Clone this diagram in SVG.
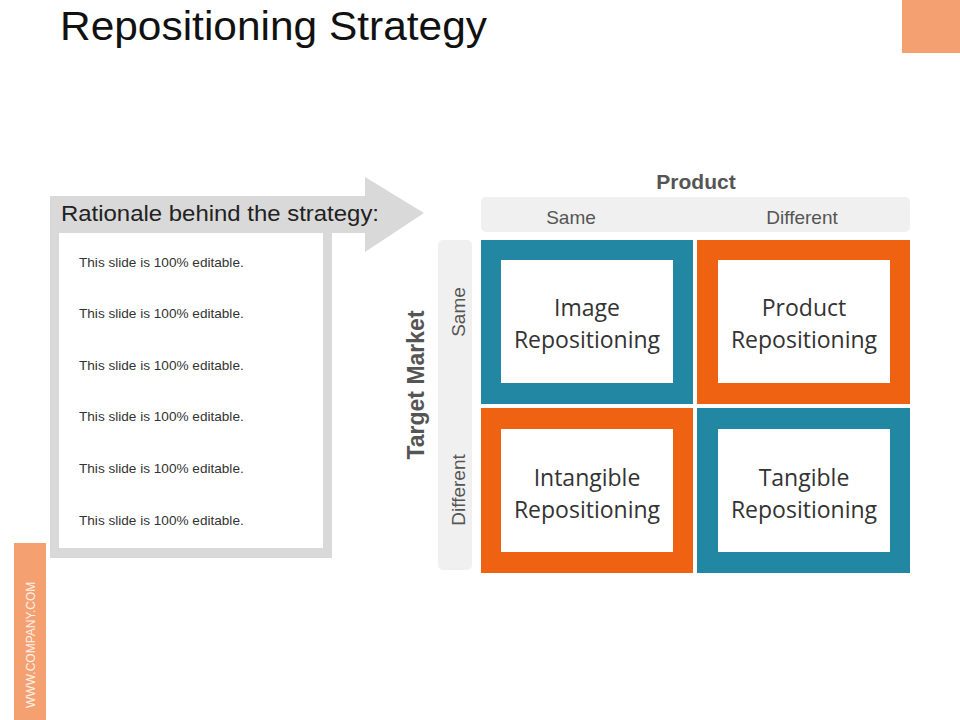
<svg xmlns="http://www.w3.org/2000/svg" width="960" height="720" viewBox="0 0 960 720">
<style>
.t{font-family:"Liberation Sans",Arial,sans-serif}
.q{font-family:"Open Sans","Noto Sans",sans-serif;font-size:23px;fill:#333;text-anchor:middle}
.s{font-size:13.6px;fill:#333}
.teal{fill:#2187A3}.or{fill:#EE6212}.in{fill:#fff}
</style>
<rect width="960" height="720" fill="#fff"/>
<text class="t" x="60" y="40" font-size="40" fill="#111" textLength="427" lengthAdjust="spacingAndGlyphs">Repositioning Strategy</text>
<rect x="902" y="0" width="58" height="53" fill="#F5A071"/>
<rect x="14" y="543" width="32" height="177" fill="#F5A071"/>
<text class="t" transform="translate(35,708) rotate(-90)" font-size="12" fill="#fff" opacity="0.85">WWW.COMPANY.COM</text>
<g id="rationale">
<path d="M50,196 H365 V177 L424,213 L365,252 V233 H332 V558 H50 Z" fill="#D9D9D9"/>
<rect x="59" y="233" width="264" height="315" fill="#fff"/>
<text class="t" x="61" y="221" font-size="22" fill="#222" textLength="318" lengthAdjust="spacingAndGlyphs">Rationale behind the strategy:</text>
<text class="t s" x="79" y="267">This slide is 100% editable.</text>
<text class="t s" x="79" y="318">This slide is 100% editable.</text>
<text class="t s" x="79" y="370">This slide is 100% editable.</text>
<text class="t s" x="79" y="421">This slide is 100% editable.</text>
<text class="t s" x="79" y="473">This slide is 100% editable.</text>
<text class="t s" x="79" y="525">This slide is 100% editable.</text>
</g>
<g id="axes">
<text class="t" x="696" y="189" font-size="21" font-weight="bold" fill="#555" text-anchor="middle">Product</text>
<rect x="481" y="197" width="429" height="35" rx="5" fill="#F0F0F0"/>
<text class="t" x="571" y="224" font-size="19" fill="#555" text-anchor="middle">Same</text>
<text class="t" x="802" y="224" font-size="19" fill="#555" text-anchor="middle">Different</text>
<text class="t" transform="translate(424,385) rotate(-90)" font-size="23" font-weight="bold" fill="#555" text-anchor="middle">Target Market</text>
<rect x="438" y="240" width="34" height="330" rx="5" fill="#F0F0F0"/>
<text class="t" transform="translate(465,312) rotate(-90)" font-size="19" fill="#555" text-anchor="middle">Same</text>
<text class="t" transform="translate(465,490) rotate(-90)" font-size="19" fill="#555" text-anchor="middle">Different</text>
</g>
<g id="image">
<rect class="teal" x="481" y="240" width="212" height="164"/><rect class="in" x="501" y="260" width="172" height="123"/>
<text class="q" x="587" y="316">Image</text><text class="q" x="587" y="348">Repositioning</text></g>
<g id="product">
<rect class="or" x="697" y="240" width="213" height="164"/><rect class="in" x="718" y="260" width="172" height="123"/>
<text class="q" x="804" y="316">Product</text><text class="q" x="804" y="348">Repositioning</text></g>
<g id="intangible">
<rect class="or" x="481" y="408" width="212" height="165"/><rect class="in" x="501" y="429" width="172" height="123"/>
<text class="q" x="587" y="486">Intangible</text><text class="q" x="587" y="518">Repositioning</text></g>
<g id="tangible">
<rect class="teal" x="697" y="408" width="213" height="165"/><rect class="in" x="718" y="429" width="172" height="123"/>
<text class="q" x="804" y="486">Tangible</text><text class="q" x="804" y="518">Repositioning</text></g>
<g id="connectors"></g>
</svg>
